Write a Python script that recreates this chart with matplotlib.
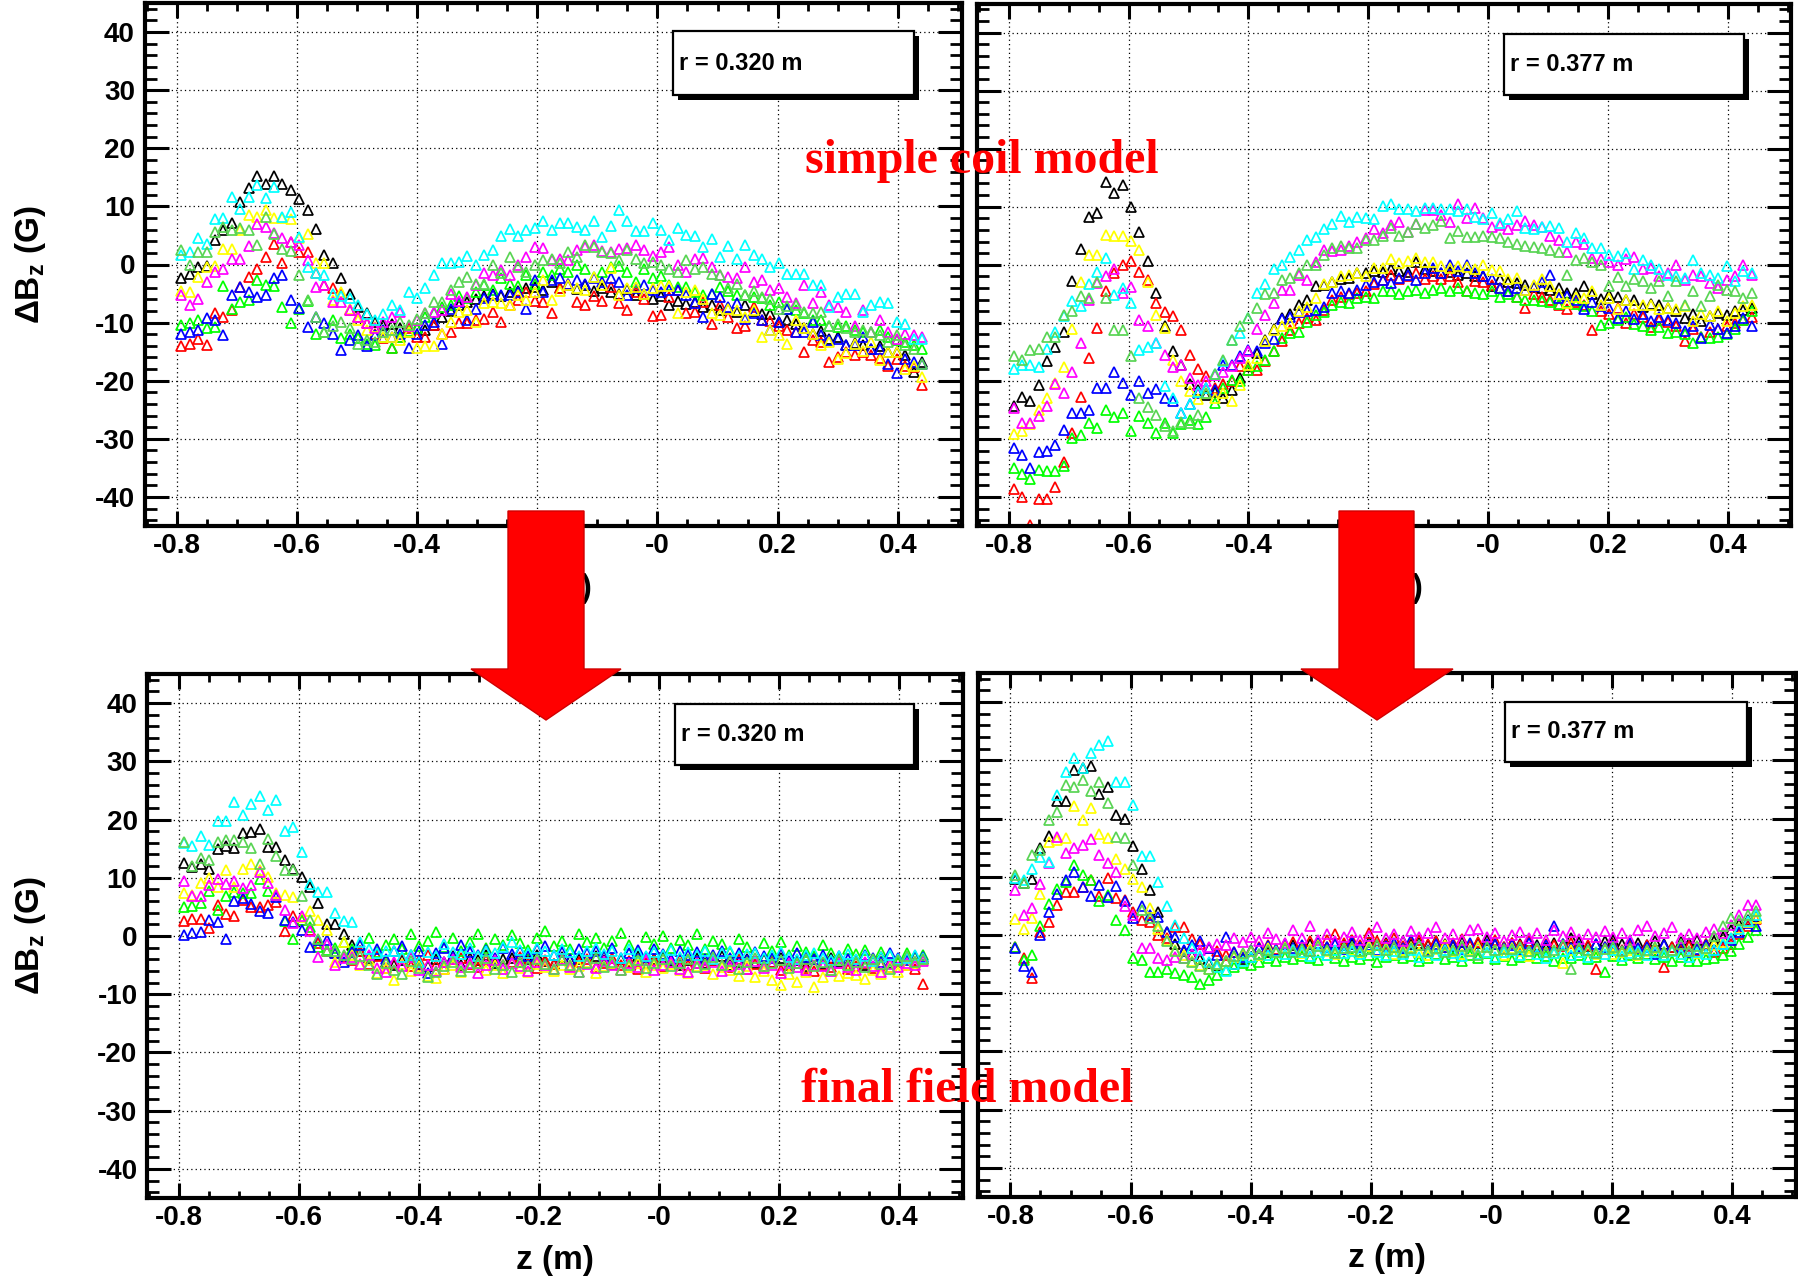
import numpy as np
import matplotlib.pyplot as plt
from matplotlib.patches import Rectangle, Polygon
from matplotlib.ticker import MultipleLocator, FixedLocator, FixedFormatter

plt.rcParams['font.family'] = ['Liberation Sans', 'DejaVu Sans']
plt.rcParams['font.weight'] = 'bold'
plt.rcParams['mathtext.fontset'] = 'custom'
plt.rcParams['mathtext.rm'] = 'Liberation Sans:bold'
plt.rcParams['mathtext.it'] = 'Liberation Sans:bold'
plt.rcParams['mathtext.bf'] = 'Liberation Sans:bold'

# scan positions along z (m)
z = [-0.792, -0.778, -0.764, -0.750, -0.736, -0.722, -0.708, -0.694, -0.680, -0.666,
     -0.652, -0.638, -0.624, -0.610, -0.596, -0.582, -0.568, -0.554, -0.540, -0.526,
     -0.512, -0.498, -0.484, -0.470, -0.456, -0.442, -0.428, -0.414, -0.400, -0.386,
     -0.372, -0.358, -0.344, -0.330, -0.316, -0.302, -0.288, -0.274, -0.260, -0.246,
     -0.232, -0.218, -0.204, -0.190, -0.176, -0.162, -0.148, -0.134, -0.120, -0.106,
     -0.092, -0.078, -0.064, -0.050, -0.036, -0.022, -0.008, 0.006, 0.020, 0.034,
     0.048, 0.062, 0.076, 0.090, 0.104, 0.118, 0.132, 0.146, 0.160, 0.174,
     0.188, 0.202, 0.216, 0.230, 0.244, 0.258, 0.272, 0.286, 0.300, 0.314,
     0.328, 0.342, 0.356, 0.370, 0.384, 0.398, 0.412, 0.426, 0.440]

# ---- simple coil model, r = 0.320 m  (dBz in G)
tl_black = [-2.4, -1.7, -0.4, -0.2, 4.2, 6.0, 7.2, 10.8, 13.1, 15.2,
            13.9, 15.2, 13.8, 12.8, 11.3, 9.3, 6.1, 1.6, 0.3, -2.3,
            -5.0, -7.3, -8.4, -9.9, -10.4, -10.3, -11.0, -11.6, -11.0, -11.3,
            -10.4, -9.0, -8.0, -7.0, -6.5, -6.0, -5.5, -5.0, -5.5, -4.8,
            -4.5, -4.0, -3.8, -4.4, -3.0, -4.0, -3.5, -4.2, -3.6, -4.5,
            -4.0, -4.8, -5.0, -4.3, -5.2, -5.0, -6.0, -5.5, -7.0, -6.2,
            -6.8, -6.5, -7.3, -7.0, -7.8, -7.5, -8.2, -7.0, -8.0, -8.5,
            -8.6, -9.9, -9.5, -10.2, -11.0, -11.9, -11.5, -12.8, -12.5, -13.9,
            -13.5, -13.9, -14.5, -14.0, -15.0, -15.1, -15.5, -18.5, -16.8]
tl_red = [-14.1, -13.6, -12.8, -13.9, -8.4, -9.0, -7.8, -3.8, -2.1, -0.8,
          1.3, 3.6, 0.3, 3.9, 2.2, 2.2, -1.5, -3.6, -4.1, -5.0,
          -7.8, -9.0, -10.1, -11.9, -12.7, -14.3, -12.4, -11.0, -12.4, -12.4,
          -10.4, -11.9, -11.6, -10.1, -10.1, -9.6, -9.3, -8.1, -9.9, -7.0,
          -6.1, -4.7, -6.3, -6.4, -8.4, -4.1, -3.3, -6.4, -7.0, -5.5,
          -6.3, -3.8, -6.7, -7.9, -4.7, -6.0, -8.9, -8.7, -5.6, -4.4,
          -8.4, -8.2, -6.5, -10.2, -7.0, -9.0, -11.0, -10.6, -7.3, -9.5,
          -9.8, -10.5, -11.3, -11.6, -15.1, -13.0, -13.3, -16.7, -15.9, -15.1,
          -15.6, -15.1, -15.5, -16.1, -17.4, -16.2, -17.4, -17.6, -20.8]
tl_green = [-10.4, -10.1, -9.6, -11.0, -10.7, -3.7, -7.6, -6.4, -6.1, -2.7,
            -3.6, -3.7, -7.3, -10.0, -7.6, -6.3, -11.9, -11.6, -9.5, -12.7,
            -12.0, -12.7, -13.6, -13.9, -12.5, -14.4, -12.4, -11.5, -11.0, -9.0,
            -8.4, -7.3, -7.0, -5.4, -5.8, -4.7, -3.6, -4.4, -2.4, -3.3,
            -3.7, -1.8, -3.3, -1.3, -1.8, -0.7, -1.3, -0.1, -0.7, -2.1,
            -1.3, -0.4, -0.2, -1.3, -3.0, -0.7, -2.4, -2.0, -3.6, -3.9,
            -3.9, -4.7, -5.2, -5.0, -3.9, -4.6, -5.3, -5.3, -5.6, -5.7,
            -7.0, -6.4, -7.6, -7.9, -8.4, -9.6, -9.6, -10.5, -10.7, -10.5,
            -11.3, -11.6, -11.6, -11.3, -12.5, -13.0, -13.3, -13.9, -14.5]
tl_blue = [-11.9, -11.6, -11.3, -9.2, -9.6, -12.1, -5.3, -3.8, -4.7, -5.6,
           -5.3, -2.3, -1.8, -6.1, -7.4, -10.7, -9.0, -10.0, -11.9, -14.7,
           -13.0, -12.1, -14.1, -12.1, -11.3, -12.4, -11.9, -14.4, -11.9, -10.4,
           -9.9, -13.6, -7.6, -6.4, -9.6, -7.6, -5.8, -5.3, -5.3, -5.2,
           -4.7, -7.6, -2.7, -4.7, -2.7, -2.4, -3.3, -2.7, -3.3, -2.4,
           -3.0, -2.4, -3.0, -5.3, -4.1, -3.6, -4.4, -4.7, -4.4, -4.4,
           -5.3, -6.7, -9.0, -5.0, -5.6, -7.3, -6.7, -9.3, -8.4, -9.6,
           -11.3, -9.9, -7.6, -11.6, -11.6, -9.9, -12.2, -13.0, -12.8, -13.9,
           -13.9, -12.5, -14.5, -14.5, -17.1, -18.6, -16.2, -16.8, -17.1]
tl_yellow = [-4.5, -4.8, -2.1, -0.4, -0.2, 2.7, 2.6, 5.9, 8.5, 8.2,
             9.3, 8.0, 8.0, 7.8, 4.6, 5.3, 0.2, 0.2, -6.1, -4.7,
             -7.6, -9.5, -11.3, -10.8, -12.4, -12.4, -13.0, -11.6, -14.4, -14.1,
             -14.1, -11.9, -9.9, -8.1, -7.8, -9.9, -6.7, -6.4, -6.7, -7.0,
             -5.3, -6.1, -4.7, -2.7, -6.1, -4.6, -3.6, -4.1, -4.4, -2.1,
             -3.6, -0.6, -5.3, -4.1, -3.9, -5.0, -4.1, -3.7, -3.7, -8.4,
             -4.7, -4.4, -5.9, -8.4, -8.7, -7.6, -7.9, -9.0, -7.9, -12.5,
             -11.3, -12.2, -13.6, -9.6, -11.0, -11.9, -13.9, -13.3, -16.2, -15.3,
             -13.6, -14.8, -13.3, -16.5, -15.1, -15.1, -17.9, -17.4, -19.4]
tl_magenta = [-5.3, -6.9, -6.0, -3.0, -1.3, -0.7, 0.9, 1.0, 3.2, 6.9,
              6.5, 5.5, 4.5, 3.9, 3.3, 0.7, -3.8, -3.6, -6.4, -6.5,
              -7.8, -9.0, -10.1, -11.0, -9.9, -9.0, -8.1, -10.5, -9.5, -8.4,
              -8.1, -7.8, -5.0, -6.3, -5.6, -3.6, -1.5, -1.8, -1.0, -1.8,
              -0.1, 1.3, 3.0, 2.9, 0.7, 1.0, 0.7, 2.5, 3.0, 3.3,
              2.3, 2.2, 2.6, 2.8, 3.3, 2.5, 1.5, 2.2, 3.0, -0.1,
              -1.3, 1.0, 1.1, -0.4, -1.8, -2.1, -2.4, -0.4, -3.0, -2.7,
              -4.4, -4.1, -5.6, -6.7, -3.6, -6.7, -4.7, -7.0, -7.3, -8.2,
              -10.5, -7.9, -11.6, -9.6, -11.6, -12.8, -11.9, -12.2, -12.5]
tl_cyan = [1.6, 2.1, 4.5, 3.6, 7.8, 8.0, 11.7, 9.5, 11.6, 13.6,
           11.5, 13.3, 8.2, 9.0, 4.8, -0.4, -1.5, -1.8, -5.1, -5.5,
           -5.8, -7.0, -8.6, -9.6, -8.6, -7.0, -7.8, -4.7, -5.8, -4.0,
           -1.8, 0.3, 0.3, 0.5, 1.5, 0.0, 1.7, 2.5, 4.9, 6.1,
           4.9, 5.9, 6.2, 7.4, 5.9, 7.2, 7.2, 6.5, 5.9, 7.5,
           4.8, 6.7, 9.3, 7.4, 5.7, 5.8, 7.1, 6.0, 4.2, 6.2,
           5.1, 4.9, 3.0, 4.4, 1.3, 3.2, 0.9, 3.3, 1.7, 1.0,
           -0.4, 0.2, -1.6, -1.6, -1.6, -3.6, -3.6, -7.3, -5.6, -5.0,
           -5.0, -8.2, -7.0, -6.4, -6.7, -9.9, -10.3, -12.8, -12.9]
tl_lgreen = [2.5, -0.1, 2.1, 2.1, 5.6, 6.5, 6.0, 6.2, 6.0, 3.4,
             8.2, 5.3, 2.7, 2.3, -1.8, -6.1, -9.0, -11.6, -10.5, -9.9,
             -11.0, -13.6, -13.0, -13.3, -11.6, -11.3, -9.9, -10.4, -9.3, -8.4,
             -6.4, -6.4, -4.4, -3.0, -2.1, -3.3, -3.3, -0.1, -1.5, 1.3,
             -0.4, -1.3, -0.1, 0.7, 1.0, 0.2, 2.2, 1.3, 3.3, 3.0,
             2.2, 1.9, 0.7, 2.5, 1.0, 0.2, 0.5, -0.1, -0.7, -1.3,
             0.7, -0.7, -0.4, -1.6, -1.8, -4.1, -3.3, -5.3, -4.6, -5.6,
             -5.9, -7.6, -7.1, -7.0, -8.2, -8.4, -8.2, -10.5, -10.2, -11.0,
             -11.6, -11.3, -11.6, -12.2, -13.3, -12.2, -13.9, -14.5, -17.1]

# ---- simple coil model, r = 0.377 m
tr_black = [-24.3, -22.7, -23.4, -20.7, -16.6, -14.1, -11.6, -2.8, 2.7, 8.3,
            8.9, 14.2, 12.4, 13.8, 10.0, 5.7, 0.6, -4.8, -10.6, -14.9,
            -17.2, -20.5, -21.5, -22.5, -22.0, -23.0, -21.5, -19.5, -17.5, -15.2,
            -13.0, -11.0, -9.1, -8.5, -7.0, -6.0, -3.6, -3.5, -2.9, -2.5,
            -2.2, -1.4, -1.5, -1.1, -1.2, -0.7, -1.0, -1.2, 0.4, -0.8,
            -1.0, -1.5, -1.2, -1.8, -1.5, -2.0, -2.0, -3.7, -2.5, -3.0,
            -3.2, -3.5, -3.8, -4.0, -4.3, -4.0, -4.8, -4.8, -3.6, -5.0,
            -5.9, -5.2, -5.5, -6.0, -6.1, -7.3, -6.8, -7.0, -7.4, -8.0,
            -9.2, -8.5, -9.7, -8.8, -8.3, -8.6, -8.0, -7.8, -7.4]
tr_red = [-38.7, -40.0, -44.8, -40.3, -40.3, -38.2, -33.9, -29.0, -22.7, -16.1,
          -10.9, -4.6, -1.5, 0.0, 0.7, -1.3, -2.6, -6.6, -8.2, -8.8,
          -11.2, -15.5, -18.0, -19.1, -21.2, -20.5, -20.0, -17.5, -18.1, -18.1,
          -16.6, -14.9, -13.2, -11.2, -10.0, -9.2, -9.5, -7.8, -6.0, -5.5,
          -5.0, -4.9, -4.5, -3.4, -2.6, -1.8, -2.5, -2.0, -1.5, -2.5,
          -2.0, -2.5, -2.0, -3.0, -4.5, -2.8, -3.0, -3.5, -4.0, -4.5,
          -5.5, -7.4, -5.0, -5.5, -6.0, -7.0, -7.7, -6.5, -7.0, -11.2,
          -8.0, -8.5, -7.5, -10.0, -8.5, -9.0, -10.8, -9.5, -9.8, -10.5,
          -13.2, -11.0, -12.5, -11.5, -11.0, -10.5, -10.0, -9.5, -9.0]
tr_green = [-35.0, -36.1, -36.9, -35.4, -35.6, -35.6, -34.7, -29.8, -29.3, -27.3,
            -28.1, -25.0, -26.2, -25.5, -28.7, -26.0, -27.3, -29.0, -27.3, -29.0,
            -27.5, -26.7, -27.5, -26.2, -23.8, -21.2, -19.8, -20.1, -18.1, -17.4,
            -16.4, -14.9, -12.6, -11.8, -11.5, -9.8, -8.6, -8.2, -6.9, -6.5,
            -6.6, -5.7, -5.5, -5.7, -4.6, -4.6, -5.0, -4.5, -4.3, -4.8,
            -4.3, -4.0, -4.5, -4.0, -4.6, -4.8, -5.1, -4.6, -5.5, -5.1,
            -5.6, -6.1, -6.0, -6.3, -6.5, -6.8, -6.5, -6.8, -7.1, -8.0,
            -10.3, -10.0, -9.5, -9.0, -10.2, -10.6, -11.2, -10.8, -11.7, -11.5,
            -12.0, -13.5, -12.5, -12.6, -12.4, -12.0, -11.0, -9.5, -8.0]
tr_blue = [-31.6, -32.7, -35.0, -32.3, -32.0, -31.0, -28.4, -25.5, -25.6, -25.0,
           -21.2, -21.2, -18.4, -20.3, -22.4, -20.1, -22.1, -21.4, -22.9, -23.5,
           -25.5, -23.9, -22.1, -21.2, -21.5, -17.2, -17.2, -15.8, -14.6, -14.9,
           -13.5, -12.8, -9.4, -9.0, -8.2, -8.0, -7.8, -7.2, -4.9, -4.5,
           -4.9, -4.3, -3.5, -3.0, -2.6, -3.1, -2.3, -1.7, -2.6, -1.5,
           -0.5, -1.5, 0.0, -1.0, 0.0, -1.4, -2.0, -2.5, -4.0, -4.6,
           -4.0, -4.3, -3.6, -3.0, -1.7, -5.7, -5.4, -6.0, -7.7, -6.5,
           -7.1, -7.4, -9.1, -8.0, -9.4, -8.5, -9.7, -9.0, -9.5, -10.0,
           -11.4, -10.5, -12.6, -10.3, -11.0, -11.7, -10.6, -9.1, -10.6]
tr_yellow = [-29.1, -28.7, -27.5, -25.0, -22.9, -20.3, -17.6, -11.0, -3.0, 1.7,
             1.7, 5.2, 5.0, 5.0, 4.1, 2.5, -2.9, -8.6, -10.9, -16.4,
             -20.1, -21.8, -23.1, -22.1, -22.9, -22.1, -23.4, -20.7, -17.2, -16.1,
             -13.2, -11.2, -10.6, -10.0, -8.0, -7.2, -5.7, -3.3, -2.9, -2.0,
             -1.8, -1.4, -2.0, -0.6, -0.6, 1.0, 0.3, 0.6, 1.2, 0.4,
             0.4, -0.3, -0.5, -0.2, -0.4, -0.8, 0.0, -0.9, -1.1, -2.5,
             -2.3, -4.3, -3.5, -2.5, -3.7, -5.1, -6.6, -5.5, -5.7, -4.6,
             -6.9, -5.7, -7.7, -6.1, -7.0, -6.9, -7.0, -7.7, -7.5, -7.7,
             -7.1, -9.7, -8.5, -8.9, -8.0, -9.7, -8.3, -7.1, -6.9]
tr_magenta = [-24.7, -27.3, -27.3, -26.0, -24.4, -20.5, -22.1, -18.4, -13.5, -6.1,
              -3.2, -2.0, -0.7, -4.9, -3.8, -9.6, -10.6, -13.5, -15.5, -17.6,
              -17.2, -19.5, -20.7, -20.1, -19.0, -18.5, -17.5, -16.1, -14.9, -11.1,
              -8.6, -6.6, -4.4, -4.3, -1.7, -2.6, 0.4, 2.6, 2.3, 2.6,
              3.3, 4.0, 4.6, 6.1, 5.5, 6.9, 7.3, 5.6, 7.1, 9.5,
              9.5, 8.5, 7.3, 10.4, 8.1, 9.8, 8.0, 6.5, 6.9, 6.1,
              6.9, 7.5, 6.8, 6.5, 4.9, 4.3, 2.2, 3.9, 3.5, 1.2,
              1.0, 0.5, -0.1, 1.0, 1.3, -0.7, -0.5, -2.0, -1.5, 0.0,
              -2.6, -1.7, -2.0, -3.1, -4.0, -2.6, -1.9, -0.1, -1.7]
tr_cyan = [-18.0, -17.2, -17.2, -17.6, -14.5, -11.5, -8.8, -6.3, -7.1, -3.3,
           -1.3, 1.1, -5.2, -4.0, -6.6, -14.7, -14.1, -13.5, -20.9, -23.0,
           -25.5, -24.0, -22.0, -21.2, -18.9, -16.6, -12.9, -11.8, -9.2, -4.9,
           -3.3, -0.7, 0.0, 1.4, 2.6, 4.2, 4.8, 6.1, 7.1, 8.4,
           7.3, 8.2, 8.0, 7.9, 10.2, 10.4, 9.6, 9.6, 9.2, 9.8,
           9.8, 9.6, 9.6, 9.2, 9.6, 8.2, 7.9, 9.0, 7.2, 7.9,
           9.2, 6.3, 6.1, 6.5, 6.6, 6.3, 4.0, 5.4, 4.6, 2.9,
           2.9, 1.6, 1.5, 2.0, -0.8, 0.9, 0.0, -0.8, -1.7, -2.0,
           -2.3, 0.9, -1.4, -1.8, -2.3, -0.3, -2.8, -1.0, -1.4]
tr_lgreen = [-15.8, -16.4, -14.7, -14.5, -12.4, -12.4, -8.6, -8.0, -5.3, -5.7,
             -3.0, -5.7, -11.2, -11.2, -15.8, -22.9, -24.5, -25.8, -27.8, -28.7,
             -27.0, -27.3, -25.8, -22.1, -18.9, -16.4, -12.9, -10.6, -9.2, -7.5,
             -5.0, -4.9, -2.6, -2.3, -1.5, 0.0, 0.0, 1.7, 2.9, 3.2,
             2.9, 2.9, 4.3, 4.3, 5.0, 6.3, 5.0, 5.6, 7.1, 6.3,
             6.9, 7.5, 4.6, 5.8, 4.8, 4.8, 4.9, 4.8, 4.6, 3.9,
             3.5, 3.2, 3.1, 2.9, 2.6, 2.2, -1.7, 0.9, 1.2, 0.4,
             -0.1, -3.6, -2.1, -3.7, -2.4, -2.8, -4.0, -2.8, -5.4, -2.8,
             -6.9, -4.6, -7.1, -5.4, -3.5, -4.3, -4.6, -5.7, -4.8]

# ---- final field model, r = 0.320 m
bl_black = [12.5, 11.9, 12.3, 11.5, 15.0, 15.4, 15.1, 17.7, 17.8, 18.4,
            15.3, 15.3, 13.1, 11.5, 10.1, 8.4, 5.7, 2.1, 2.1, 0.4,
            -1.6, -2.5, -3.8, -3.2, -4.5, -5.0, -4.1, -3.6, -4.8, -5.2,
            -4.0, -4.4, -3.5, -4.9, -3.8, -4.2, -3.3, -4.6, -4.0, -3.7,
            -4.5, -3.9, -3.2, -4.3, -4.8, -3.6, -4.1, -3.9, -4.6, -3.4,
            -4.2, -4.8, -3.9, -4.4, -3.5, -4.7, -4.0, -3.6, -4.3, -5.0,
            -4.1, -3.8, -4.6, -4.2, -3.5, -4.9, -4.4, -3.9, -4.7, -4.0,
            -4.5, -3.8, -4.9, -4.2, -5.1, -4.0, -4.6, -3.7, -4.4, -4.8,
            -4.1, -5.0, -4.3, -3.6, -4.7, -4.2, -3.8, -4.5, -4.0]
bl_red = [2.6, 3.0, 3.0, 1.3, 5.4, 3.7, 3.4, 6.2, 5.0, 5.0,
          5.3, 5.8, 0.9, 3.5, 2.8, 1.1, -1.2, -2.5, -3.0, -3.6,
          -4.2, -2.6, -4.8, -3.5, -5.5, -4.6, -3.8, -5.2, -4.1, -3.2,
          -4.9, -5.6, -4.0, -3.7, -4.8, -5.3, -4.2, -3.9, -5.0, -4.4,
          -3.6, -4.7, -5.5, -4.1, -4.8, -3.9, -5.1, -4.5, -4.0, -5.4,
          -4.6, -3.8, -5.0, -4.3, -5.6, -4.7, -4.1, -5.2, -4.4, -3.9,
          -5.0, -4.6, -5.5, -4.2, -4.9, -5.3, -4.0, -5.6, -4.8, -5.2,
          -4.4, -5.8, -5.0, -4.6, -5.5, -6.0, -4.9, -5.3, -4.7, -5.7,
          -5.1, -4.6, -5.5, -4.9, -5.3, -4.4, -5.0, -5.6, -8.2]
bl_green = [4.9, 5.1, 5.7, 7.7, 4.5, 6.8, 7.5, 7.3, 7.3, 9.8,
            7.8, 7.0, 2.6, -0.6, 2.7, 1.6, -1.9, -2.4, -2.0, -1.0,
            -2.2, -1.5, -0.4, -2.8, -1.6, -0.5, -2.3, 0.4, -1.8, -0.9,
            0.7, -1.9, -0.3, -2.5, -1.0, 0.4, -2.1, -0.6, -1.5, 0.2,
            -1.2, -2.4, -0.3, 0.9, -1.7, -0.8, -2.2, 0.3, -1.1, -0.4,
            -2.0, -0.9, 0.5, -1.6, -2.6, -0.2, -1.3, 0.0, -2.1, -0.7,
            -1.5, 0.3, -2.3, -0.8, -1.4, -2.8, -0.5, -1.9, -3.0, -1.2,
            -2.5, -1.0, -3.2, -1.8, -2.7, -3.5, -1.6, -2.9, -3.8, -2.2,
            -3.1, -2.4, -4.0, -2.8, -3.3, -4.4, -3.0, -3.6, -3.2]
bl_blue = [0.1, 0.5, 0.7, 2.8, 2.4, -0.6, 6.0, 6.6, 5.5, 4.3,
           3.9, 6.7, 2.7, 2.4, 1.1, -1.9, -0.7, -0.7, -3.0, -4.5,
           -2.8, -1.6, -3.4, -2.2, -3.9, -2.6, -1.8, -3.3, -2.5, -6.3,
           -3.0, -2.1, -3.6, -1.5, -2.8, -3.2, -2.4, -3.7, -2.0, -3.1,
           -2.6, -3.5, -2.2, -1.8, -3.3, -2.7, -3.9, -2.3, -3.0, -2.5,
           -3.4, -2.1, -3.8, -2.9, -2.4, -3.6, -2.2, -3.1, -3.9, -2.6,
           -3.3, -2.8, -4.0, -3.2, -2.5, -3.7, -3.0, -4.2, -2.7, -3.5,
           -3.8, -3.1, -4.3, -2.9, -3.6, -4.0, -3.2, -4.5, -3.4, -3.9,
           -4.1, -3.3, -3.7, -4.4, -3.0, -3.8, -4.2, -3.5, -3.6]
bl_yellow = [7.3, 7.0, 9.1, 10.0, 8.5, 11.4, 8.5, 11.5, 12.4, 11.3,
             10.1, 7.3, 7.0, 6.7, 3.3, 4.3, 2.7, 1.1, -4.5, -1.0,
             -3.2, -5.0, -4.2, -6.3, -5.5, -7.5, -4.8, -6.0, -5.2, -6.8,
             -7.2, -5.6, -4.9, -6.1, -5.3, -4.6, -5.8, -5.0, -6.4, -4.7,
             -5.5, -6.2, -4.8, -5.4, -6.0, -4.9, -5.7, -5.1, -4.4, -6.3,
             -5.2, -4.7, -5.9, -5.4, -4.6, -6.1, -5.0, -5.5, -4.8, -5.8,
             -6.4, -5.1, -4.9, -6.6, -5.3, -5.9, -6.8, -5.2, -7.0, -6.0,
             -7.6, -8.4, -6.5, -7.9, -6.2, -8.8, -7.1, -5.8, -6.9, -6.3,
             -6.7, -7.4, -5.9, -6.5, -5.4, -6.1, -5.0, -4.7, -4.2]
bl_magenta = [9.4, 6.8, 6.8, 8.7, 9.8, 8.9, 9.4, 8.3, 8.7, 11.0,
              9.1, 7.0, 4.5, 2.2, 3.5, 0.9, -3.6, -1.4, -4.9, -3.8,
              -3.6, -4.8, -3.3, -5.5, -6.2, -4.4, -5.1, -3.6, -5.8, -4.9,
              -6.0, -4.5, -3.9, -5.4, -4.7, -6.3, -5.0, -4.2, -5.6, -4.6,
              -5.2, -6.0, -4.4, -4.9, -5.7, -4.0, -5.3, -6.1, -4.8, -5.5,
              -4.3, -5.0, -5.9, -4.6, -5.4, -4.1, -5.8, -5.0, -4.5, -5.6,
              -6.2, -4.7, -5.3, -4.4, -6.0, -5.1, -4.8, -5.7, -4.3, -5.5,
              -5.0, -6.3, -4.6, -5.4, -5.9, -4.9, -5.2, -6.0, -4.7, -5.3,
              -5.8, -4.5, -5.1, -6.2, -4.8, -5.4, -4.6, -5.0, -4.3]
bl_cyan = [16.0, 15.4, 17.1, 15.7, 19.8, 19.7, 23.0, 20.7, 22.6, 24.1,
           21.7, 23.4, 18.0, 18.7, 14.4, 8.9, 7.5, 7.5, 3.9, 2.6,
           2.4, -1.0, -2.2, -3.0, -2.5, -2.5, -3.6, -3.2, -4.5, -2.8,
           -3.5, -1.3, -2.7, -3.1, -2.0, -3.4, -2.6, -2.9, -1.9, -1.0,
           -2.4, -3.0, -2.1, -2.6, -3.3, -2.2, -2.8, -3.5, -2.5, -2.0,
           -3.1, -2.6, -3.7, -2.3, -2.9, -3.4, -2.7, -3.2, -2.4, -3.6,
           -2.8, -3.3, -2.5, -3.9, -3.0, -2.6, -3.5, -3.1, -2.9, -3.8,
           -3.2, -2.7, -3.6, -4.0, -3.3, -2.9, -3.7, -4.2, -3.5, -3.1,
           -3.9, -3.4, -4.3, -3.6, -3.2, -4.0, -3.7, -3.3, -3.8]
bl_lgreen = [16.1, 12.1, 13.4, 13.1, 16.1, 16.5, 16.5, 16.1, 15.1, 12.4,
             16.7, 13.8, 11.4, 11.3, 6.8, 2.7, -0.5, -2.6, -2.6, -3.2,
             -4.0, -3.5, -5.0, -6.5, -4.6, -5.8, -6.6, -4.3, -5.5, -7.0,
             -6.2, -5.1, -4.4, -6.0, -5.3, -4.7, -3.8, -5.6, -4.9, -6.1,
             -4.5, -5.2, -3.9, -4.8, -5.7, -4.2, -5.0, -6.2, -4.6, -3.7,
             -5.3, -4.4, -5.8, -4.9, -4.1, -5.5, -4.7, -3.9, -5.1, -4.6,
             -4.0, -5.4, -4.8, -3.6, -5.0, -4.3, -5.6, -4.5, -3.8, -5.2,
             -4.7, -4.1, -5.5, -4.6, -3.9, -5.1, -4.4, -5.8, -4.2, -4.9,
             -4.5, -5.3, -4.0, -4.8, -5.6, -4.2, -3.5, -4.4, -4.0]

# ---- final field model, r = 0.377 m
br_black = [9.7, 8.9, 9.7, 14.9, 17.0, 23.0, 23.0, 28.3, 28.6, 29.0,
            24.3, 25.4, 20.6, 19.9, 15.3, 11.4, 7.7, 4.0, 0.6, -1.5,
            -2.8, -3.5, -4.2, -4.8, -5.2, -4.5, -5.0, -4.2, -3.8, -3.5,
            -3.0, -2.6, -2.2, -1.8, -2.0, -1.6, -1.5, -2.1, -1.3, -1.8,
            -1.5, -1.9, -1.2, -1.7, -1.4, -2.0, -1.1, -1.6, -1.3, -1.8,
            -1.0, -1.5, -1.9, -1.2, -1.7, -1.4, -0.9, -1.6, -2.0, -1.3,
            -1.5, -1.1, -1.8, -2.2, -1.4, -1.6, -0.5, -1.2, -1.9, -1.5,
            -1.0, -0.8, -1.6, -1.9, -1.3, -1.7, -1.1, -1.5, -2.0, -1.2,
            -1.4, -0.9, -1.6, -1.0, -0.4, 0.8, 1.9, 2.6, 3.2]
br_red = [-2.0, -4.0, -7.4, 0.6, 2.3, 5.1, 7.4, 7.3, 8.3, 9.4,
          6.7, 9.8, 6.3, 6.0, 4.0, 2.6, 2.3, 0.0, -0.5, 1.4,
          1.3, -0.7, -1.5, -2.2, -2.8, -3.5, -2.9, -3.3, -2.6, -2.0,
          -1.8, -2.4, -1.5, -1.2, -2.0, -1.0, -1.6, -0.8, 0.2, -1.4,
          -0.9, -1.7, 0.4, -1.1, -1.5, -0.6, -1.9, -1.2, -0.8, -1.6,
          -1.0, -2.1, -1.4, -0.7, -1.8, -1.2, -1.5, -0.9, -2.0, -1.3,
          -1.7, -1.1, -2.4, -1.6, -1.8, -1.9, -1.3, -2.2, -1.8, -5.8,
          -2.0, -1.5, -2.6, -1.7, -2.3, -1.8, -2.7, -5.5, -2.1, -2.4,
          -1.9, -2.6, -1.6, -2.9, -2.2, -1.5, 0.2, 1.5, 2.8]
br_green = [-2.0, -4.3, -3.4, 1.6, 5.4, 7.9, 9.1, 12.1, 10.3, 9.4,
            5.8, 6.9, 2.6, 0.9, -3.9, -4.3, -6.3, -6.3, -5.8, -6.6,
            -6.9, -7.2, -8.5, -7.7, -6.8, -6.0, -5.5, -4.8, -5.2, -4.6,
            -4.0, -4.4, -3.8, -4.2, -3.6, -3.9, -4.3, -3.5, -4.0, -4.5,
            -3.7, -4.1, -3.4, -4.6, -3.8, -3.5, -4.0, -3.6, -4.5, -3.9,
            -3.3, -4.2, -3.7, -4.4, -3.5, -3.9, -3.1, -4.1, -3.6, -4.3,
            -3.8, -3.4, -4.0, -3.6, -4.5, -3.9, -3.9, -3.5, -4.2, -3.7,
            -6.3, -3.6, -4.3, -3.4, -3.9, -3.2, -4.1, -3.7, -4.5, -3.8,
            -4.4, -4.5, -4.2, -3.9, -3.5, -2.8, -1.5, -0.3, 0.8]
br_blue = [-2.2, -5.4, -6.3, 0.0, 4.0, 7.1, 9.4, 10.9, 8.3, 6.7,
           8.6, 6.6, 8.5, 5.8, 2.9, 4.9, 3.4, 3.1, 0.6, -0.3,
           -2.6, -1.8, -1.1, -2.3, -3.5, -0.3, -3.0, -3.8, -2.5, -2.2,
           -1.9, -2.6, -1.5, -2.3, -1.8, -2.7, -1.4, -2.1, -1.6, -2.4,
           -1.2, -2.0, -1.7, -2.5, -1.9, -1.3, -2.2, -0.9, -1.8, -2.6,
           -1.5, -2.1, -1.7, -2.4, -1.3, -2.0, -1.6, -1.6, -2.3, -1.8,
           -2.5, -1.4, -2.0, -1.7, 1.5, -1.5, -2.2, -1.9, -2.6, -1.6,
           -2.1, -1.8, -2.7, -1.4, -2.3, -2.0, -3.2, -1.7, -2.5, -2.1,
           -3.0, -2.4, -1.8, -2.6, -1.5, -0.9, 0.5, 2.0, 1.5]
br_yellow = [2.7, 1.0, 2.9, 7.1, 16.0, 16.3, 16.6, 22.2, 19.7, 21.8,
             17.3, 16.7, 13.1, 11.3, 9.6, 8.3, 4.6, 1.1, -0.8, -2.6,
             -3.5, -4.4, -5.2, -5.8, -4.9, -4.5, -3.8, -3.2, -2.7, -3.4,
             -2.3, -2.9, -2.0, -2.6, -3.1, -2.4, -1.8, -2.7, -3.3, -2.2,
             -2.5, -3.0, -1.9, -2.8, -2.3, -3.2, -2.6, -2.0, -2.9, -3.5,
             -2.4, -1.8, -2.7, -3.3, -2.5, -2.1, -3.0, -2.6, -3.4, -2.2,
             -2.8, -3.6, -2.3, -2.9, -3.1, -4.8, -2.5, -3.0, -2.7, -3.3,
             -2.4, -3.2, -2.9, -2.6, -3.5, -2.8, -2.2, -3.0, -2.5, -3.3,
             -2.7, -3.1, -2.4, -1.8, -1.2, -0.5, 1.2, 2.2, 3.0]
br_magenta = [7.7, 3.5, 4.6, 8.7, 12.3, 16.9, 14.0, 14.9, 15.5, 16.5,
              13.8, 12.3, 10.9, 5.0, 3.5, -2.3, -2.3, -4.0, -4.3, -3.8,
              -3.9, -3.2, -2.6, -2.0, -1.5, -1.8, -0.6, -1.2, -0.4, -1.0,
              0.3, -0.7, -1.3, 0.9, -0.5, 1.5, -0.9, 0.2, -1.1, -0.3,
              0.6, -0.8, -0.2, 1.3, -0.6, 0.1, -1.0, 0.7, -0.4, 0.4,
              1.3, -0.5, 0.2, -0.9, 0.8, 1.1, -0.3, 0.4, -1.0, 0.0,
              0.6, -0.6, 0.3, -0.8, 0.9, -0.2, 0.5, -0.7, 0.1, -0.4,
              0.7, -0.3, 0.4, -0.9, 0.9, 1.5, -0.1, 0.3, 1.3, -0.5,
              0.2, -0.6, 0.6, 1.0, 0.4, 1.8, 3.5, 5.2, 5.1]
br_cyan = [9.8, 9.4, 11.4, 13.4, 12.5, 24.0, 28.0, 30.4, 28.6, 31.3,
           32.6, 33.4, 26.3, 26.3, 22.3, 13.6, 13.6, 9.1, 4.9, 1.7,
           -0.5, -2.2, -3.6, -4.6, -5.5, -6.2, -5.0, -4.4, -3.8, -3.2,
           -3.5, -2.8, -3.3, -2.6, -3.0, -3.6, -2.9, -3.4, -2.5, -3.1,
           -2.7, -3.3, -2.4, -3.0, -3.5, -2.8, -3.2, -2.6, -3.7, -2.9,
           -3.4, -2.5, -3.1, -3.6, -2.7, -3.3, -2.9, -3.8, -3.0, -2.6,
           -3.5, -2.8, -3.2, -3.9, -3.1, -2.7, -3.4, -3.0, -3.7, -2.9,
           -3.3, -2.6, -3.6, -3.1, -2.8, -3.5, -3.0, -3.4, -2.7, -3.2,
           -3.8, -2.9, -3.3, -2.5, -1.6, -0.5, 1.0, 2.4, 3.5]
br_lgreen = [10.3, 9.0, 13.7, 14.6, 19.7, 21.1, 25.7, 25.4, 26.7, 24.7,
             26.2, 22.7, 16.9, 16.6, 12.1, 4.3, 2.9, 1.5, -1.1, -2.8,
             -3.9, -4.6, -5.3, -5.8, -5.0, -4.4, -3.6, -3.1, -2.8, -3.3,
             -2.5, -2.9, -2.2, -3.0, -2.4, -2.7, -1.9, -2.6, -3.1, -2.3,
             -2.0, -2.8, -2.4, -1.7, -2.6, -2.1, -3.0, -2.3, -1.8, -2.7,
             -2.2, -2.9, -2.5, -1.9, -2.8, -3.4, -2.1, -2.6, -2.4, -2.4,
             -2.0, -2.7, -2.3, -3.0, -2.5, -1.8, -5.8, -2.2, -2.6, -3.1,
             -2.4, -2.0, -2.8, -2.3, -3.2, -2.6, -2.1, -2.9, -2.5, -1.6,
             -2.7, -1.9, -2.3, -0.2, 1.5, 2.9, 2.6, 3.5, 4.2]

colours = ['#000000', '#ff0000', '#00ff00', '#0000ff', '#ffff00', '#ff00ff', '#00ffff', '#59d454']
x_ticks = [-0.8, -0.6, -0.4, -0.2, 0.0, 0.2, 0.4]
x_labels = ['-0.8', '-0.6', '-0.4', '-0.2', '-0', '0.2', '0.4']
y_ticks = [40, 30, 20, 10, 0, -10, -20, -30, -40]
y_labels = ['40', '30', '20', '10', '0', '-10', '-20', '-30', '-40']

W, H = 1799, 1281


def fx(x):
    return x / W


def fy(y):
    return 1 - y / H


fig = plt.figure(figsize=(W / 100, H / 100), dpi=100)

# (left, top, right, bottom) in pixels, series, show y labels, radius text, box
panels = [
    ((144.7, 3, 961.6, 526), [tl_black, tl_red, tl_green, tl_blue, tl_yellow, tl_magenta, tl_cyan, tl_lgreen],
     True, 'r = 0.320 m', (672.7, 31.4, 913.8, 94.6)),
    ((977, 3.5, 1791.3, 526), [tr_black, tr_red, tr_green, tr_blue, tr_yellow, tr_magenta, tr_cyan, tr_lgreen],
     False, 'r = 0.377 m', (1503.7, 33.9, 1744.3, 94.6)),
    ((147.3, 674, 963, 1198), [bl_black, bl_red, bl_green, bl_blue, bl_yellow, bl_magenta, bl_cyan, bl_lgreen],
     True, 'r = 0.320 m', (675, 704, 914, 765)),
    ((978.5, 673, 1796, 1197), [br_black, br_red, br_green, br_blue, br_yellow, br_magenta, br_cyan, br_lgreen],
     False, 'r = 0.377 m', (1505, 702, 1747.5, 762)),
]

for (l, t, r, b), series, show_y, rtext, box in panels:
    ax = fig.add_axes([fx(l), fy(b), (r - l) / W, (b - t) / H])
    for vals, c in zip(series, colours):
        ax.plot(z, vals, linestyle='none', marker='^', ms=7.5, mfc='none', mec=c, mew=1.25)
    ax.set_xlim(-0.853, 0.506)
    ax.set_ylim(-45, 45)
    ax.xaxis.set_major_locator(FixedLocator(x_ticks))
    ax.xaxis.set_major_formatter(FixedFormatter(x_labels))
    ax.xaxis.set_minor_locator(MultipleLocator(0.05))
    ax.yaxis.set_major_locator(FixedLocator(y_ticks))
    ax.yaxis.set_major_formatter(FixedFormatter(y_labels))
    ax.yaxis.set_minor_locator(MultipleLocator(2))
    ax.grid(True, which='major', color='black', linestyle=(0, (1, 2.5)), linewidth=0.9)
    ax.xaxis.set_tick_params(which='major', direction='in', top=True, bottom=True,
                             length=10.8, width=2.2, pad=5, labelsize=20)
    ax.xaxis.set_tick_params(which='minor', direction='in', top=True, bottom=True,
                             length=5.4, width=2.0)
    ax.yaxis.set_tick_params(which='major', direction='in', left=True, right=True,
                             length=17.3, width=2.2, pad=7, labelsize=20, labelleft=show_y)
    ax.yaxis.set_tick_params(which='minor', direction='in', left=True, right=True,
                             length=8.6, width=2.0)
    for s in ax.spines.values():
        s.set_linewidth(3)

    # axis titles
    fig.text(fx((l + r) / 2), fy(b + 62), 'z (m)', ha='center', va='center', fontsize=24, fontweight='bold')
    if show_y:
        fig.text(fx(31), fy((t + b) / 2), r'$\Delta$B$_{z}$ (G)', rotation=90,
                 ha='center', va='center', fontsize=24, fontweight='bold')

    # radius pave with shadow
    x0, y0, x1, y1 = box
    fig.add_artist(Rectangle((fx(x0 + 5), fy(y1 + 5)), (x1 - x0) / W, (y1 - y0) / H,
                             transform=fig.transFigure, facecolor='black', edgecolor='none', zorder=5))
    fig.add_artist(Rectangle((fx(x0), fy(y1)), (x1 - x0) / W, (y1 - y0) / H,
                             transform=fig.transFigure, facecolor='white', edgecolor='black',
                             linewidth=1.6, zorder=6))
    fig.text(fx(x0 + 6), fy((y0 + y1) / 2), rtext, ha='left', va='center',
             fontsize=17, fontweight='bold', zorder=7)

# red overlay arrows
for sx0, sx1, hx0, hx1, tip in [(508, 584, 471, 621, 546), (1339, 1414, 1301, 1453, 1377)]:
    pts = [(sx0, 511), (sx1, 511), (sx1, 669), (hx1, 669), (tip, 720), (hx0, 669), (sx0, 669)]
    fig.add_artist(Polygon([(fx(px), fy(py)) for px, py in pts], closed=True,
                           transform=fig.transFigure, facecolor='#ff0000',
                           edgecolor='#d00000', linewidth=1.0, zorder=20))

fig.text(fx(804.7), fy(173), 'simple coil model', family='Liberation Serif', fontweight='bold',
         fontsize=34.5, color='#ff0000', ha='left', va='baseline', zorder=21)
fig.text(fx(801), fy(1102), 'final field model', family='Liberation Serif', fontweight='bold',
         fontsize=34.5, color='#ff0000', ha='left', va='baseline', zorder=21)

fig.savefig('out.png', dpi=100)
